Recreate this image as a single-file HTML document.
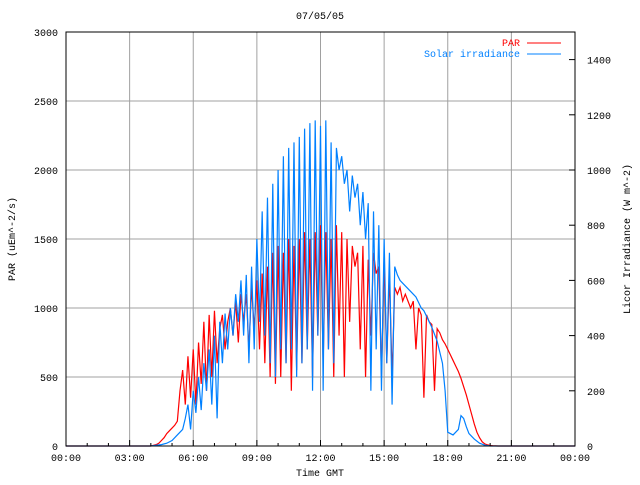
<!DOCTYPE html>
<html><head><meta charset="utf-8"><style>
body{margin:0;background:#fff}
svg text{font-family:"Liberation Mono","DejaVu Sans Mono",monospace;font-size:10px}
</style></head><body>
<svg id="c" width="640" height="480">
<text x="320" y="19" text-anchor="middle">07/05/05</text>
<text x="320" y="476" text-anchor="middle">Time GMT</text>
<text transform="translate(15,239) rotate(-90)" text-anchor="middle">PAR (uEm^-2/s)</text>
<text transform="translate(630,239) rotate(-90)" text-anchor="middle">Licor Irradiance (W m^-2)</text>
<g id="grid"></g><g id="series"></g>
<rect x="66" y="32" width="509" height="414" fill="none" stroke="#000"/>
<g id="axes"></g>
<g>
<text x="520" y="46" text-anchor="end" fill="#ff0000">PAR</text>
<line x1="527" y1="43" x2="561" y2="43" stroke="#ff0000"/>
<text x="520" y="57" text-anchor="end" fill="#0080ff">Solar irradiance</text>
<line x1="527" y1="54" x2="561" y2="54" stroke="#0080ff"/>
</g>
</svg>
<script>
const xTickLabels=["00:00","03:00","06:00","09:00","12:00","15:00","18:00","21:00","00:00"];
const leftTicks=[0,500,1000,1500,2000,2500,3000];
const rightTicks=[0,200,400,600,800,1000,1200,1400];
const parTimes=[0,4,4.125,4.25,4.375,4.5,4.625,4.75,4.875,5,5.125,5.25,5.375,5.5,5.625,5.75,5.875,6,6.125,6.25,6.375,6.5,6.625,6.75,6.875,7,7.125,7.25,7.375,7.5,7.625,7.75,7.875,8,8.125,8.25,8.375,8.5,8.625,8.75,8.875,9,9.125,9.25,9.375,9.5,9.625,9.75,9.875,10,10.125,10.25,10.375,10.5,10.625,10.75,10.875,11,11.125,11.25,11.375,11.5,11.625,11.75,11.875,12,12.125,12.25,12.375,12.5,12.625,12.75,12.875,13,13.125,13.25,13.375,13.5,13.625,13.75,13.875,14,14.125,14.25,14.375,14.5,14.625,14.75,14.875,15,15.125,15.25,15.375,15.5,15.625,15.75,15.875,16,16.125,16.25,16.375,16.5,16.625,16.75,16.875,17,17.125,17.25,17.375,17.5,17.625,17.75,17.875,18,18.125,18.25,18.375,18.5,18.625,18.75,18.875,19,19.125,19.25,19.375,19.5,19.625,19.75,19.875,20,20.125,20.25,20.375,24];
const parValues=[0,0,5,10,20,40,60,90,110,130,150,180,400,550,300,650,350,700,300,750,450,900,400,950,500,980,600,850,950,700,900,1000,800,1050,750,1100,900,1100,700,1150,850,1200,700,1250,600,1300,500,1400,450,1450,500,1400,600,1500,400,1450,550,1500,600,1550,700,1500,500,1550,800,1600,600,1550,700,1500,500,1600,800,1550,500,1500,900,1450,1300,1400,700,1450,500,1350,800,1400,1250,1300,500,1350,600,1250,500,1150,1100,1150,1050,1100,1050,1000,1050,700,1000,950,350,950,900,880,400,850,820,770,740,700,660,620,580,540,490,430,370,300,230,160,100,60,30,15,8,4,2,1,0,0];
const solarTimes=[0,4,4.5,4.75,5,5.25,5.5,5.625,5.75,5.875,6,6.125,6.25,6.375,6.5,6.625,6.75,6.875,7,7.125,7.25,7.375,7.5,7.625,7.75,7.875,8,8.125,8.25,8.375,8.5,8.625,8.75,8.875,9,9.125,9.25,9.375,9.5,9.625,9.75,9.875,10,10.125,10.25,10.375,10.5,10.625,10.75,10.875,11,11.125,11.25,11.375,11.5,11.625,11.75,11.875,12,12.125,12.25,12.375,12.5,12.625,12.75,12.875,13,13.125,13.25,13.375,13.5,13.625,13.75,13.875,14,14.125,14.25,14.375,14.5,14.625,14.75,14.875,15,15.125,15.25,15.375,15.5,15.625,15.75,15.875,16,16.125,16.25,16.375,16.5,16.625,16.75,16.875,17,17.125,17.25,17.5,17.75,17.875,18,18.25,18.5,18.625,18.75,18.875,19,19.25,19.5,19.75,20,24];
const solarValues=[0,0,5,10,20,40,60,100,150,60,200,120,250,130,300,200,350,150,400,100,450,300,480,350,500,400,550,450,600,400,620,300,650,350,750,450,850,400,900,300,950,250,1000,350,1050,300,1080,350,1100,250,1120,300,1150,350,1170,200,1180,400,1160,200,1180,350,1100,300,1080,1000,1050,950,1000,850,980,900,950,800,920,750,880,200,850,350,800,200,750,300,700,150,650,620,600,590,580,570,560,550,540,520,500,490,470,450,430,380,300,200,50,40,60,110,100,70,45,25,10,3,0,0];
const NS="http://www.w3.org/2000/svg";
const X0=66,X1=575,Y0=446,Y1=32;
const xs=h=>X0+(X1-X0)*h/24;
const yl=v=>Y0-(Y0-Y1)*v/3000;
const yr=v=>Y0-(Y0-Y1)*v/1500;
function mk(tag,attrs,parent){const e=document.createElementNS(NS,tag);for(const k in attrs)e.setAttribute(k,attrs[k]);parent.appendChild(e);return e;}
const grid=document.getElementById('grid'),axes=document.getElementById('axes'),ser=document.getElementById('series');
xTickLabels.forEach((l,i)=>{const x=xs(i*3);
 if(i>0&&i<8){const g=mk('line',{x1:x,x2:x,y1:Y1,y2:Y0,stroke:'#a0a0a0'},grid);
 
 }
 const t=mk('text',{x:x,y:Y0+15,'text-anchor':'middle'},axes);t.textContent=l;
 
 
});
for(let h=0;h<=24;h++){const x=xs(h);const len=h%3===0?6:3;
 const tk=mk('line',{x1:x,x2:x,y1:Y0,y2:Y0-len,stroke:'#000'},axes);
 
 }
leftTicks.forEach(v=>{const y=yl(v);
 if(v>0&&v<3000){const g=mk('line',{x1:X0,x2:X1,y1:y,y2:y,stroke:'#a0a0a0'},grid);
 
 }
 const t=mk('text',{x:X0-8,y:y+4,'text-anchor':'end'},axes);t.textContent=v;
 
 
});
rightTicks.forEach(v=>{const y=yr(v);
 mk('line',{x1:X1,x2:X1-6,y1:y,y2:y,stroke:'#000'},axes);
 const t=mk('text',{x:X1+12,y:y+4,'text-anchor':'start'},axes);t.textContent=v;
 
 
});
const pS=mk('polyline',{points:solarTimes.map((t,i)=>xs(t)+','+yr(solarValues[i])).join(' '),fill:'none',stroke:'#0080ff','stroke-width':1.2},ser);


const pP=mk('polyline',{points:parTimes.map((t,i)=>xs(t)+','+yl(parValues[i])).join(' '),fill:'none',stroke:'#ff0000','stroke-width':1.2},ser);


ser.appendChild(pS);
</script>
</body></html>
